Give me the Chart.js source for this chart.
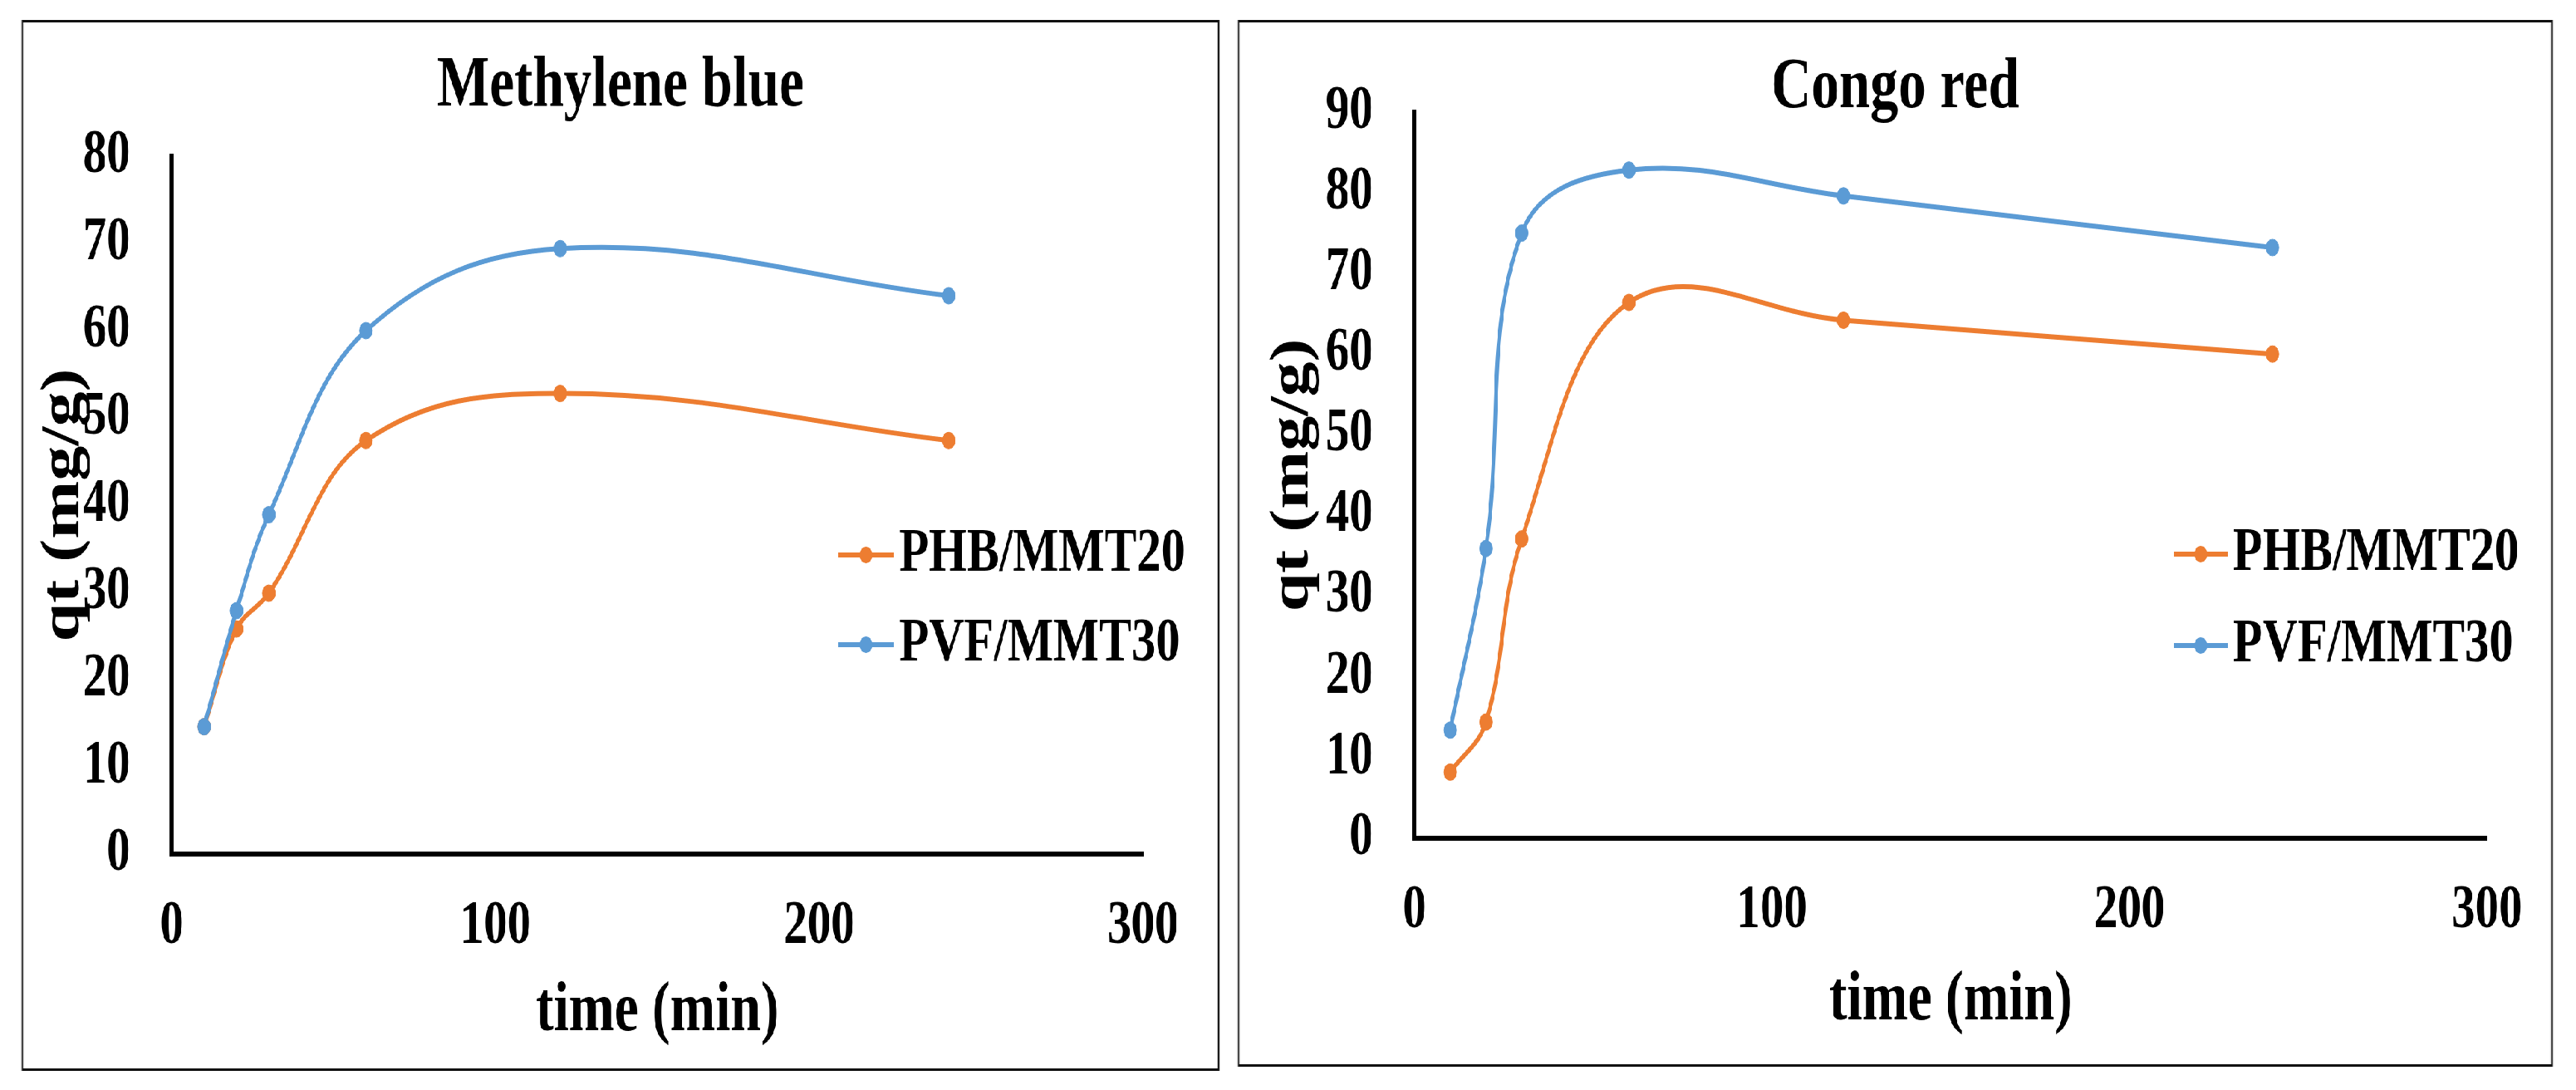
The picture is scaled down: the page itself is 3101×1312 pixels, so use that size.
<!DOCTYPE html>
<html lang="en">
  <head>
    <meta charset="UTF-8" />
    <title>Adsorption kinetics: Methylene blue and Congo red</title>
    <style>
      body {
        margin: 0;
        background: #fff;
        overflow: hidden;
      }
      /* the source figure is squeezed sideways, so the whole page is drawn wide and scaled in x */
      .page {
        position: absolute;
        left: 0;
        top: 0;
        width: 3976px;
        height: 1312px;
        transform: scaleX(0.78);
        transform-origin: 0 0;
      }
      .panel {
        position: absolute;
        box-sizing: border-box;
        border: 3px solid #111;
        background: #fff;
      }
      #leftPanel { left: 33px; top: 24px; width: 1849px; height: 1265px; }
      #rightPanel { left: 1910px; top: 24px; width: 2030px; height: 1260px; }
      .panel canvas { display: block; }
    </style>
  </head>
  <body>
    <div class="page">
      <div class="panel" id="leftPanel">
        <canvas id="mbChart" width="1843" height="1259"></canvas>
      </div>
      <div class="panel" id="rightPanel">
        <canvas id="crChart" width="2024" height="1254"></canvas>
      </div>
    </div>
    <script src="https://cdn.jsdelivr.net/npm/chart.js@4.4.1/dist/chart.umd.min.js"></script>
    <script>
      // time (min)
      const times = [10, 20, 30, 60, 120, 240];
      const seriesNames = ["PHB/MMT20", "PVF/MMT30"];

      // qt (mg/g)
      const mbPHB = [14.6, 25.8, 29.9, 47.4, 52.8, 47.4];
      const mbPVF = [14.6, 27.9, 38.9, 60.0, 69.4, 64.0];
      const crPHB = [8.2, 14.4, 37.1, 66.4, 64.2, 60.0];
      const crPVF = [13.4, 35.9, 75.0, 82.8, 79.6, 73.2];

      const xTicks = [0, 100, 200, 300];
      const mbTicks = [0, 10, 20, 30, 40, 50, 60, 70, 80];
      const crTicks = [0, 10, 20, 30, 40, 50, 60, 70, 80, 90];

      const orange = "#ED7D31";
      const blue = "#5B9BD5";
      const serif = "'Liberation Serif', 'Times New Roman', serif";

      // panel title centred on the whole panel, and the legend drawn inside the plot (Excel style)
      const panelDecor = {
        id: "panelDecor",
        afterDraw(chart, args, opts) {
          const ctx = chart.ctx;
          ctx.save();
          ctx.fillStyle = "#000";
          ctx.textBaseline = "middle";
          ctx.textAlign = "center";
          ctx.font = "bold 86px " + serif;
          ctx.fillText(opts.title, chart.width / 2, opts.titleY);

          ctx.font = "bold 75px " + serif;
          ctx.textAlign = "left";
          chart.data.datasets.forEach((ds, i) => {
            const y = opts.y + i * opts.gap;
            ctx.strokeStyle = ds.borderColor;
            ctx.lineWidth = 6;
            ctx.beginPath();
            ctx.moveTo(opts.x, y);
            ctx.lineTo(opts.x + opts.lineLen, y);
            ctx.stroke();
            ctx.fillStyle = ds.borderColor;
            ctx.beginPath();
            ctx.arc(opts.x + opts.lineLen / 2, y, 10, 0, Math.PI * 2);
            ctx.fill();
            ctx.fillStyle = "#000";
            ctx.fillText(ds.label, opts.x + opts.lineLen + 8, y);
          });
          ctx.restore();
        },
      };

      function series(label, values, color, order) {
        return {
          label: label,
          data: times.map((t, i) => ({ x: t, y: values[i] })),
          borderColor: color,
          backgroundColor: color,
          borderWidth: 6,
          pointRadius: 10,
          pointBorderWidth: 1,
          pointBorderColor: color,
          pointBackgroundColor: color,
          tension: 0.38,
          order: order,
        };
      }

      function makeChart(id, cfg) {
        const ctx = document.getElementById(id).getContext("2d");
        return new Chart(ctx, {
          type: "line",
          data: {
            datasets: [
              series(seriesNames[0], cfg.phb, orange, 1),
              series(seriesNames[1], cfg.pvf, blue, 0),
            ],
          },
          options: {
            responsive: false,
            animation: false,
            devicePixelRatio: 1,
            layout: { padding: { left: 0, right: cfg.padRight, top: cfg.padTop, bottom: 0 } },
            plugins: {
              legend: { display: false },
              tooltip: { enabled: false },
              title: { display: false },
              panelDecor: cfg.decor,
            },
            scales: {
              x: {
                type: "linear",
                min: 0,
                max: 300,
                grid: { display: false, drawTicks: false },
                border: { display: true, color: "#000", width: 6 },
                afterBuildTicks: (axis) => {
                  axis.ticks = xTicks.map((v) => ({ value: v }));
                },
                afterFit: (axis) => {
                  axis.height = cfg.xHeight;
                },
                ticks: {
                  color: "#000",
                  padding: 44,
                  maxRotation: 0,
                  font: { family: serif, size: 73, weight: "bold" },
                },
                title: {
                  display: true,
                  text: "time (min)",
                  color: "#000",
                  font: { family: serif, size: 84, weight: "bold" },
                  padding: { top: 0, bottom: cfg.xTitleBottom },
                },
              },
              y: {
                min: 0,
                max: cfg.yTicks[cfg.yTicks.length - 1],
                grid: { display: false, drawTicks: false },
                border: { display: true, color: "#000", width: 6 },
                afterBuildTicks: (axis) => {
                  axis.ticks = cfg.yTicks.map((v) => ({ value: v }));
                },
                afterFit: (axis) => {
                  axis.width = cfg.yWidth;
                },
                ticks: {
                  color: "#000",
                  padding: 64,
                  font: { family: serif, size: 73, weight: "bold" },
                },
                title: {
                  display: true,
                  text: "qt (mg/g)",
                  color: "#000",
                  font: { family: serif, size: 84, weight: "bold" },
                  padding: { top: cfg.yTitleTop, bottom: 0 },
                },
              },
            },
          },
          plugins: [panelDecor],
        });
      }

      makeChart("mbChart", {
        phb: mbPHB,
        pvf: mbPVF,
        yTicks: mbTicks,
        padRight: 115,
        padTop: 161,
        xHeight: 258,
        xTitleBottom: 17,
        yWidth: 229,
        yTitleTop: 13,
        decor: { title: "Methylene blue", titleY: 78, x: 1257, y: 641, gap: 108, lineLen: 87 },
      });

      makeChart("crChart", {
        phb: crPHB,
        pvf: crPVF,
        yTicks: crTicks,
        padRight: 95,
        padTop: 60,
        xHeight: 272,
        xTitleBottom: 25,
        yWidth: 270,
        yTitleTop: 33,
        decor: { title: "Congo red", titleY: 80, x: 1442, y: 640, gap: 110, lineLen: 83 },
      });
    </script>
  </body>
</html>
